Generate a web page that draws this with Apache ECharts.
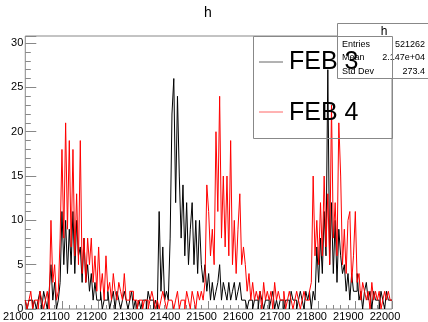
<!DOCTYPE html>
<html>
<head>
<meta charset="utf-8">
<script src="https://cdn.jsdelivr.net/npm/echarts@6/dist/echarts.min.js"></script>
<style>
  html, body { margin: 0; padding: 0; background: #fff; }
  #chart { width: 428px; height: 322px; }
</style>
</head>
<body>
<div id="chart"></div>
<script>
// histogram "h": bins of 5 units from 21000 to 22000
const xStart = 21000;
const xEnd = 22000;
const binWidth = 5;
const xTicks = [21000, 21100, 21200, 21300, 21400, 21500, 21600, 21700, 21800, 21900, 22000];
const yTicks = [0, 5, 10, 15, 20, 25, 30];

// FEB 3 (black)
const feb3 = [
  1, 0, 1, 1, 0, 1, 0, 1, 2, 0, 2, 1, 0, 2, 5, 1, 3, 0, 1, 3,
  11, 5, 10, 4, 9, 5, 11, 4, 10, 6, 7, 3, 8, 3, 5, 2, 4, 1, 3, 1,
  1, 2, 0, 1, 1, 2, 0, 1, 2, 0, 2, 1, 0, 1, 2, 1, 0, 1, 2, 0,
  1, 0, 1, 0, 1, 1, 0, 2, 1, 1, 0, 1, 0, 11, 2, 7, 1, 2, 1, 8,
  22, 26, 12, 24, 15, 8, 14, 6, 12, 5, 9, 12, 5, 10, 4, 10, 5, 3, 5, 2,
  4, 1, 3, 1, 2, 3, 5, 1, 3, 2, 1, 3, 1, 2, 3, 1, 2, 3, 1, 1,
  1, 0, 1, 1, 0, 1, 1, 0, 2, 1, 0, 1, 1, 0, 1, 2, 0, 1, 0, 1,
  1, 0, 1, 1, 0, 2, 1, 1, 0, 1, 2, 1, 0, 2, 1, 2, 0, 2, 1, 7,
  3, 8, 4, 11, 6, 27, 5, 12, 4, 10, 3, 9, 6, 4, 5, 2, 4, 1, 4, 2,
  2, 4, 1, 2, 0, 2, 3, 1, 2, 0, 2, 1, 1, 0, 2, 1, 0, 2, 1, 1
];

// FEB 4 (red)
const feb4 = [
  1, 0, 1, 2, 0, 1, 1, 0, 2, 1, 0, 1, 2, 0, 10, 3, 5, 1, 2, 8,
  18, 8, 21, 9, 19, 7, 18, 6, 13, 5, 19, 4, 8, 3, 8, 5, 8, 3, 6, 2,
  7, 2, 4, 1, 6, 2, 3, 1, 4, 2, 1, 3, 2, 1, 4, 1, 1, 2, 2, 1,
  1, 0, 1, 1, 0, 1, 1, 0, 1, 2, 1, 0, 1, 0, 1, 2, 1, 0, 1, 1,
  1, 0, 1, 2, 0, 1, 1, 0, 2, 1, 0, 2, 1, 0, 2, 1, 2, 1, 3, 14,
  11, 6, 9, 5, 20, 11, 24, 8, 15, 7, 15, 6, 19, 5, 10, 4, 9, 13, 5, 7,
  5, 2, 4, 1, 3, 1, 2, 1, 2, 0, 3, 1, 2, 1, 2, 0, 3, 1, 2, 1,
  1, 2, 0, 1, 2, 1, 0, 1, 2, 1, 0, 1, 2, 1, 1, 2, 3, 15, 6, 10,
  5, 12, 6, 15, 7, 13, 5, 23, 8, 12, 6, 21, 15, 5, 9, 4, 10, 11, 3, 6,
  11, 3, 4, 1, 3, 2, 1, 2, 0, 3, 1, 2, 1, 2, 0, 1, 2, 1, 2, 1
];

const statNames = ["Entries", "Mean", "Std Dev"];
const statValues = ["521262", "2.147e+04", "273.4"];
const legendNames = ["FEB 3", "FEB 4"];

function toSteps(vals) {
  const pts = vals.map((v, i) => [xStart + i * binWidth, v]);
  pts.push([xEnd, vals[vals.length - 1]]);
  return pts;
}

const FONT = "Liberation Sans";
const chart = echarts.init(document.getElementById("chart"));

const graphics = [
  {
    type: "text", x: 208, y: 13, z: 20,
    style: { text: "h", fontSize: 14, fontFamily: FONT, fill: "#000", align: "center", verticalAlign: "middle", textAlign: "center", textVerticalAlign: "middle" }
  },
  {
    type: "rect", z: 5,
    shape: { x: 337.5, y: 23.5, width: 100, height: 55 },
    style: { fill: "#fff", stroke: "#888", lineWidth: 1 }
  },
  {
    type: "text", x: 384, y: 31.5, z: 6,
    style: { text: "h", fontSize: 12, fontFamily: FONT, fill: "#000", align: "center", verticalAlign: "middle", textAlign: "center", textVerticalAlign: "middle" }
  },
  {
    type: "rect", z: 10,
    shape: { x: 253.5, y: 36.5, width: 139, height: 102 },
    style: { fill: null, stroke: "#888", lineWidth: 1 }
  }
];
const statY = [44.5, 58, 71.5];
statNames.forEach((n, i) => {
  graphics.push({
    type: "text", x: 342, y: statY[i], z: 6,
    style: { text: n, fontSize: 9, fontFamily: FONT, fill: "#000", align: "left", verticalAlign: "middle", textAlign: "left", textVerticalAlign: "middle" }
  });
  graphics.push({
    type: "text", x: 425, y: statY[i], z: 6,
    style: { text: statValues[i], fontSize: 9, fontFamily: FONT, fill: "#000", align: "right", verticalAlign: "middle", textAlign: "right", textVerticalAlign: "middle" }
  });
});
const legY = [61.5, 112];
const legColors = ["#000", "#ff0000"];
legendNames.forEach((n, i) => {
  graphics.push({
    type: "line", z: 11,
    shape: { x1: 259, y1: Math.round(legY[i]), x2: 283, y2: Math.round(legY[i]) },
    style: { stroke: legColors[i], lineWidth: 1, opacity: 0.6 }
  });
  graphics.push({
    type: "text", x: 289, y: legY[i] + 1, z: 12,
    style: { text: n, fontSize: 25, fontFamily: FONT, fill: "#000", align: "left", verticalAlign: "middle", textAlign: "left", textVerticalAlign: "middle" }
  });
});

const option = {
  animation: false,
  backgroundColor: "#fff",
  grid: {
    left: 22, right: 36, top: 36, bottom: 13,
    show: true, borderColor: "#888", borderWidth: 1, backgroundColor: "transparent"
  },
  xAxis: {
    type: "value",
    min: xStart, max: xEnd, interval: 100,
    axisLine: { show: false },
    splitLine: { show: false },
    axisTick: { show: true, inside: true, length: 8, lineStyle: { color: "#888" } },
    minorTick: { show: true, splitNumber: 5, length: 4, lineStyle: { color: "#888" } },
    axisLabel: {
      margin: 2, fontSize: 11, fontFamily: FONT, color: "#000",
      padding: [0, 14, 0, 0],
      formatter: (v) => (xTicks.indexOf(v) >= 0 ? String(v) : "")
    }
  },
  yAxis: {
    type: "value",
    min: 0, max: 30.8, interval: 5,
    axisLine: { show: false },
    splitLine: { show: false },
    axisTick: { show: true, inside: true, length: 11, lineStyle: { color: "#888" } },
    minorTick: { show: true, splitNumber: 5, length: 5.5, lineStyle: { color: "#888" } },
    axisLabel: {
      margin: 2, fontSize: 11, fontFamily: FONT, color: "#000",
      formatter: (v) => (yTicks.indexOf(v) >= 0 ? String(v) : "")
    }
  },
  series: [
    {
      name: legendNames[0], type: "line", step: "end", showSymbol: false,
      data: toSteps(feb3),
      lineStyle: { color: "#000", width: 1 }, z: 2
    },
    {
      name: legendNames[1], type: "line", step: "end", showSymbol: false,
      data: toSteps(feb4),
      lineStyle: { color: "#ff0000", width: 1 }, z: 3
    }
  ],
  graphic: { elements: graphics }
};
chart.setOption(option);
</script>
</body>
</html>
